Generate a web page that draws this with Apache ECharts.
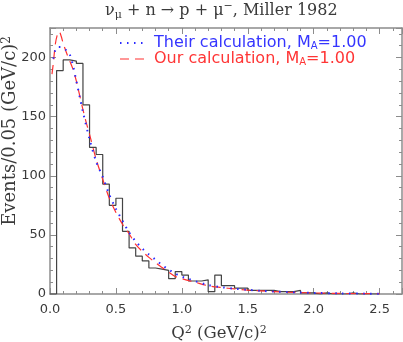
<!DOCTYPE html>
<html><head><meta charset="utf-8">
<script src="https://cdn.jsdelivr.net/npm/echarts@6/dist/echarts.min.js"></script>
<style>html,body{margin:0;padding:0;background:#fff}#c{width:403px;height:342px}</style>
</head><body><div id="c"></div>
<script>
// Histogram: events per 0.05 (GeV/c)^2 bin, starting at Q^2 = 0
const histStart = 0;
const histBinWidth = 0.05;
const histCounts = [0, 189, 198, 197, 195, 160, 124, 118, 93, 75,
                    81, 53, 39, 32, 28, 22, 21, 20, 13, 19,
                    16, 11, 11, 12, 2, 16, 7, 7, 5, 5,
                    3, 3, 3, 3, 2, 2, 2, 3, 1, 1,
                    0, 1, 0, 0, 0, 1, 0, 0, 0, 0];
// Their calculation (blue dotted)
const theirQ2 = [0.025, 0.04, 0.06, 0.08, 0.10, 0.125, 0.15, 0.175, 0.20, 0.225,
                 0.25, 0.30, 0.35, 0.40, 0.45, 0.50, 0.55, 0.60, 0.65, 0.70,
                 0.75, 0.80, 0.85, 0.90, 0.95, 1.00, 1.05, 1.10, 1.20, 1.30,
                 1.40, 1.50, 1.60, 1.70, 1.80, 1.90, 2.00, 2.20, 2.40, 2.50];
const theirValues = [199, 206, 209, 209, 208, 206, 202.5, 193, 180, 167,
                     154, 131, 112, 99, 84, 72, 62, 52, 44.5, 38.5,
                     33.5, 29, 24.5, 20.7, 17.2, 14.6, 12.8, 10.9, 7.6, 5.8,
                     4.5, 3.5, 2.7, 2.1, 1.6, 1.2, 0.9, 0.5, 0.3, 0.25];
// Our calculation (red dashed)
const ourQ2 = [0.015, 0.025, 0.04, 0.055, 0.07, 0.085, 0.10, 0.125, 0.15, 0.175,
               0.20, 0.225, 0.25, 0.275, 0.30, 0.35, 0.40, 0.45, 0.50, 0.55,
               0.60, 0.65, 0.70, 0.75, 0.80, 0.85, 0.90, 0.95, 1.00, 1.10,
               1.20, 1.30, 1.40, 1.50, 1.60, 1.70, 1.80, 1.90, 2.00, 2.20,
               2.40, 2.50];
const ourValues = [186, 195, 211, 219, 222, 218, 212, 204, 197, 190,
                   180, 168, 156, 145, 135, 114, 97, 81, 69, 59,
                   51, 42, 36, 31, 26.5, 22.5, 18.5, 14.8, 13, 10,
                   7, 5.5, 4.3, 3.3, 2.6, 2.0, 1.5, 1.2, 0.9, 0.5,
                   0.3, 0.25];
const legendLabels = ['Their calculation, M{sub|A}=1.00', 'Our calculation, M{sub|A}=1.00'];

const histData = histCounts.map((v, k) => [histStart + k * histBinWidth, v]);
histData.push([histStart + histCounts.length * histBinWidth, histCounts[histCounts.length - 1]]);
const zip = (xs, ys) => xs.map((x, i) => [x, ys[i]]);

const axisColor = '#8c8c8c';
const textColor = '#3a3a3a';
const blue = '#2a2aff';
const red = '#ff3030';
const sans = 'DejaVu Sans';
const serif = 'DejaVu Serif';
const dotted = [1.5, 5.5];
const dashed = [9, 6];

function xAx(pos, labels) {
  return {
    type: 'value', position: pos, min: 0, max: 2.67, interval: 0.5,
    axisLine: { show: true, onZero: false, lineStyle: { color: axisColor, width: 1.5 } },
    axisTick: { show: true, inside: true, length: 6, lineStyle: { color: axisColor } },
    minorTick: { show: true, splitNumber: 5, length: 3, lineStyle: { color: axisColor } },
    splitLine: { show: false },
    axisLabel: labels ? {
      show: true, color: textColor, fontFamily: sans, fontSize: 13, margin: 9,
      formatter: v => (Math.abs(v / 0.5 - Math.round(v / 0.5)) < 1e-6 ? v.toFixed(1) : '')
    } : { show: false },
    name: labels ? 'Q{sup|2} (GeV/c){sup|2}{pad|}' : '',
    nameLocation: 'middle', nameGap: 31, nameMoveOverlap: false,
    nameTextStyle: {
      color: textColor, fontFamily: serif, fontSize: 16.5, lineHeight: 18,
      rich: {
        sup: { fontFamily: serif, fontSize: 11, lineHeight: 10, verticalAlign: 'top', color: textColor },
        pad: { width: 14 }
      }
    }
  };
}
function yAx(pos, labels) {
  return {
    type: 'value', position: pos, min: 0, max: 225, interval: 50,
    axisLine: { show: true, onZero: false, lineStyle: { color: axisColor, width: 1.5 } },
    axisTick: { show: true, inside: true, length: 6, lineStyle: { color: axisColor } },
    minorTick: { show: true, splitNumber: 5, length: 3, lineStyle: { color: axisColor } },
    splitLine: { show: false },
    axisLabel: labels ? {
      show: true, color: textColor, fontFamily: sans, fontSize: 13, margin: 4,
      formatter: v => (v % 50 === 0 ? String(v) : '')
    } : { show: false },
    name: labels ? '{pad|}Events/0.05 (GeV/c){sup|2}' : '',
    nameLocation: 'middle', nameGap: 30, nameRotate: 90, nameMoveOverlap: false,
    nameTextStyle: {
      color: textColor, fontFamily: serif, fontSize: 18, lineHeight: 19,
      rich: {
        sup: { fontFamily: serif, fontSize: 12, lineHeight: 11, verticalAlign: 'top', color: textColor },
        pad: { width: 60 }
      }
    }
  };
}

const chart = echarts.init(document.getElementById('c'), null, { renderer: 'canvas' });
chart.setOption({
  animation: false,
  backgroundColor: '#fff',
  title: {
    text: 'ν{sub|μ} + n → p + μ{sup|−}, Miller 1982',
    left: 105, top: 0, padding: [1, 0, 0, 0],
    textStyle: {
      color: textColor, fontFamily: serif, fontSize: 16, fontWeight: 'normal', lineHeight: 20,
      rich: {
        sub: { fontFamily: serif, fontSize: 11, lineHeight: 11, verticalAlign: 'bottom', color: textColor },
        sup: { fontFamily: serif, fontSize: 11, lineHeight: 11, verticalAlign: 'top', color: textColor }
      }
    }
  },
  grid: { left: 50, right: 1, top: 28, bottom: 48, containLabel: false, outerBoundsMode: 'none' },
  legend: {
    orient: 'vertical', left: 119, top: 35, itemWidth: 28, itemHeight: 12, itemGap: 0,
    selectedMode: false, padding: 0,
    itemStyle: { opacity: 0 },
    data: [
      { name: 'their', textStyle: { color: '#3535ff' }, lineStyle: { color: blue, width: 2, type: dotted } },
      { name: 'our', textStyle: { color: '#ff3535' }, lineStyle: { color: red, width: 1.2, type: dashed } }
    ],
    formatter: n => n === 'their' ? legendLabels[0] : legendLabels[1],
    textStyle: {
      fontFamily: sans, fontSize: 16, lineHeight: 16, padding: [0, 0, 0, 1],
      rich: { sub: { fontFamily: sans, fontSize: 10, verticalAlign: 'bottom', lineHeight: 8 } }
    }
  },
  xAxis: [xAx('bottom', true), xAx('top', false)],
  yAxis: [yAx('left', true), yAx('right', false)],
  series: [
    {
      name: 'hist', type: 'line', step: 'end', data: histData, showSymbol: false, symbol: 'none',
      lineStyle: { color: '#444', width: 1.2 }, z: 2, xAxisIndex: 0, yAxisIndex: 0
    },
    {
      name: 'their', type: 'line', data: zip(theirQ2, theirValues), smooth: 0.3, showSymbol: false, symbol: 'none',
      itemStyle: { color: blue },
      lineStyle: { color: blue, width: 2, type: dotted }, z: 4
    },
    {
      name: 'our', type: 'line', data: zip(ourQ2, ourValues), smooth: 0.3, showSymbol: false, symbol: 'none',
      itemStyle: { color: red },
      lineStyle: { color: red, width: 1.2, type: dashed }, z: 3
    }
  ]
});
</script></body></html>
